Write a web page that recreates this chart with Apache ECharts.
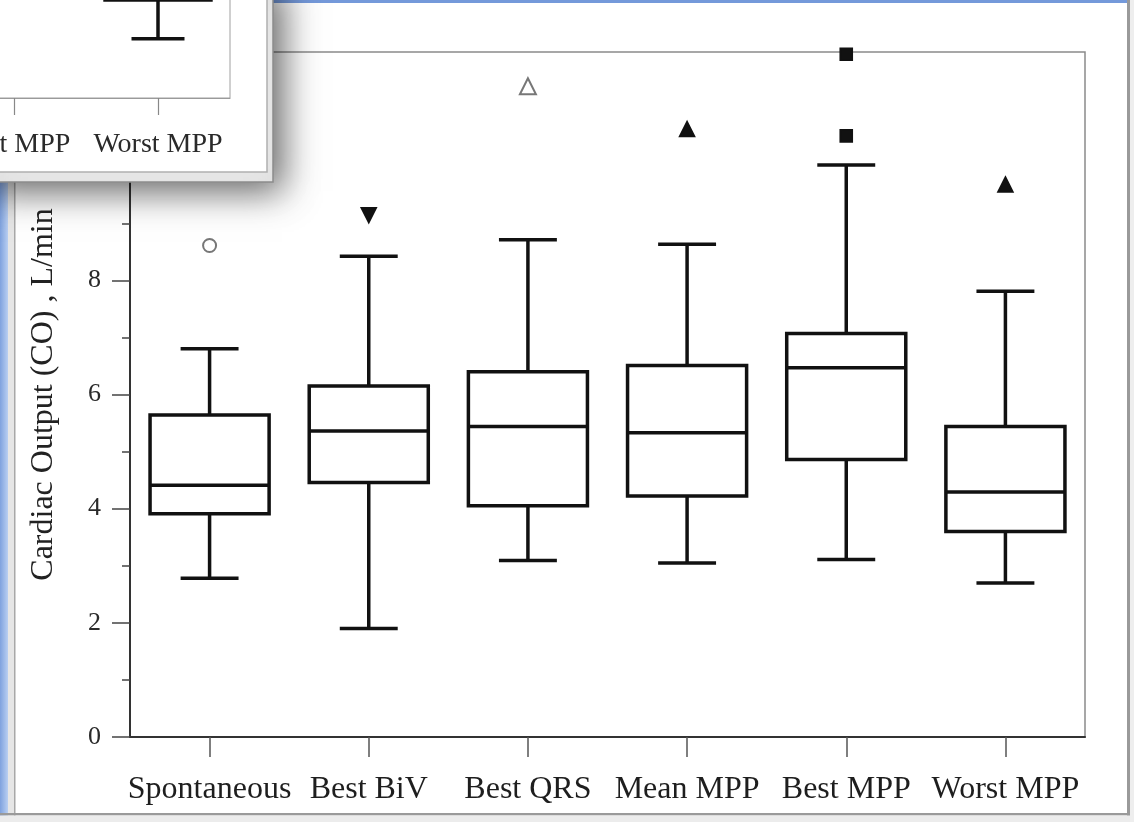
<!DOCTYPE html>
<html>
<head>
<meta charset="utf-8">
<title>Cardiac Output box plot</title>
<style>
  html, body { margin: 0; padding: 0; background: #fff; }
  #main { width: 1134px; height: 822px; }
</style>
<script src="https://cdn.jsdelivr.net/npm/echarts@6/dist/echarts.min.js"></script>
</head>
<body>
<div id="main"></div>
<script>
const categories = ['Spontaneous', 'Best BiV', 'Best QRS', 'Mean MPP', 'Best MPP', 'Worst MPP']
const whiskerLow = [2.78, 1.90, 3.09, 3.05, 3.11, 2.70]
const q1 = [3.91, 4.46, 4.05, 4.22, 4.86, 3.60]
const median = [4.41, 5.36, 5.44, 5.33, 6.47, 4.29]
const q3 = [5.64, 6.15, 6.40, 6.51, 7.07, 5.44]
const whiskerHigh = [6.80, 8.42, 8.71, 8.63, 10.02, 7.81]

// outliers: category index + value
const outlierCategory = [0, 1, 2, 3, 4, 4, 5]
const outlierValue = [8.61, 9.14, 11.40, 10.65, 11.96, 10.53, 9.68]

const yTicks = [0, 2, 4, 6, 8, 10, 12]

// the second window in front only shows the bottom of its last box
const insetCategory = [5]
const insetLow = [1.48]
const insetQ1 = [2.45]

// marker look for each outlier (same order as above)
const outlierMarks = [
  { symbol: 'emptyCircle', size: 13, color: '#777', rotate: 0 },
  { symbol: 'triangle', size: 15, color: '#111', rotate: 180 },
  { symbol: 'emptyTriangle', size: 16, color: '#777', rotate: 0 },
  { symbol: 'triangle', size: 15, color: '#111', rotate: 0 },
  { symbol: 'rect', size: 12, color: '#111', rotate: 0 },
  { symbol: 'rect', size: 12, color: '#111', rotate: 0 },
  { symbol: 'triangle', size: 15, color: '#111', rotate: 0 }
]

const serif = "'Liberation Serif', 'Times New Roman', serif"
const boxData = categories.map((c, i) => [i, whiskerLow[i], q1[i], median[i], q3[i], whiskerHigh[i]])
const outlierData = outlierCategory.map((c, i) => ({
  value: [c, outlierValue[i]],
  symbol: outlierMarks[i].symbol,
  symbolSize: outlierMarks[i].size,
  symbolRotate: outlierMarks[i].rotate,
  itemStyle: { color: outlierMarks[i].color, borderColor: outlierMarks[i].color, borderWidth: 1.6, opacity: 1 }
}))
const insetData = insetCategory.map((c, i) => [c, insetLow[i], insetQ1[i]])

const lineStyle = { stroke: '#111', lineWidth: 3.5, fill: null }

function hLine(p, half) {
  return { type: 'line', shape: { x1: p[0] - half, y1: p[1], x2: p[0] + half, y2: p[1] }, style: lineStyle }
}

function vLine(a, b) {
  return { type: 'line', shape: { x1: a[0], y1: a[1], x2: b[0], y2: b[1] }, style: lineStyle }
}

function renderBox(params, api) {
  const x = api.value(0)
  const band = api.size([1, 0])[0]
  const half = band * 0.374
  const cap = band * 0.182
  const pLow = api.coord([x, api.value(1)])
  const pQ1 = api.coord([x, api.value(2)])
  const pMed = api.coord([x, api.value(3)])
  const pQ3 = api.coord([x, api.value(4)])
  const pHigh = api.coord([x, api.value(5)])
  return {
    type: 'group',
    children: [
      vLine(pLow, pQ1),
      vLine(pQ3, pHigh),
      hLine(pLow, cap),
      hLine(pHigh, cap),
      {
        type: 'rect',
        shape: { x: pQ1[0] - half, y: pQ3[1], width: half * 2, height: pQ1[1] - pQ3[1] },
        style: { stroke: '#111', lineWidth: 3.5, fill: '#fff' }
      },
      hLine(pMed, half)
    ]
  }
}

function renderInsetBox(params, api) {
  const x = api.value(0)
  const band = api.size([1, 0])[0]
  const pLow = api.coord([x, api.value(1)])
  const pQ1 = api.coord([x, api.value(2)])
  return {
    type: 'group',
    children: [vLine(pLow, pQ1), hLine(pLow, band * 0.184), hLine(pQ1, band * 0.38)]
  }
}

const chart = echarts.init(document.getElementById('main'))

chart.setOption({
  backgroundColor: '#fff',
  animation: false,
  grid: [
    {
      left: 130, right: 49, top: 52, bottom: 85,
      outerBoundsMode: 'none',
      containLabel: false,
      show: true, borderColor: '#8a8a8a', borderWidth: 1.5, backgroundColor: '#fff'
    },
    {
      left: -634, right: 904, top: -302, bottom: 724,
      outerBoundsMode: 'none',
      containLabel: false,
      show: true, borderColor: '#a0a0a0', borderWidth: 1, backgroundColor: '#fff', z: 110
    }
  ],
  xAxis: [
    {
      type: 'category',
      data: categories,
      gridIndex: 0,
      axisLine: { lineStyle: { color: '#333', width: 2 } },
      axisTick: { show: true, interval: 0, alignWithLabel: true, length: 20, lineStyle: { color: '#555', width: 1.5 } },
      axisLabel: { interval: 0, hideOverlap: false, fontFamily: serif, fontSize: 32, color: '#1e1e1e', margin: 37 },
      splitLine: { show: false }
    },
    {
      type: 'category',
      data: categories,
      gridIndex: 1,
      z: 110,
      axisLine: { lineStyle: { color: '#9a9a9a', width: 1.2 } },
      axisTick: { show: true, interval: 0, alignWithLabel: true, length: 17, lineStyle: { color: '#888', width: 1.2 } },
      axisLabel: { interval: 0, hideOverlap: false, fontFamily: serif, fontSize: 28, color: '#2a2a2a', margin: 33 },
      splitLine: { show: false }
    }
  ],
  yAxis: [
    {
      type: 'value',
      gridIndex: 0,
      min: yTicks[0],
      max: yTicks[yTicks.length - 1],
      interval: yTicks[1] - yTicks[0],
      name: 'Cardiac Output (CO) , L/min',
      nameLocation: 'middle',
      nameGap: 70,
      nameTextStyle: { fontFamily: serif, fontSize: 32, color: '#222' },
      axisLine: { show: true, lineStyle: { color: '#333', width: 2 } },
      axisTick: { show: true, length: 18, lineStyle: { color: '#444', width: 1.5 } },
      minorTick: { show: true, splitNumber: 2, length: 8, lineStyle: { color: '#444', width: 1.5 } },
      axisLabel: { fontFamily: serif, fontSize: 26, color: '#2a2a2a', margin: 29 },
      splitLine: { show: false }
    },
    {
      type: 'value',
      gridIndex: 1,
      min: 0,
      max: 10,
      show: false,
      splitLine: { show: false }
    }
  ],
  graphic: {
    elements: [
      // window chrome
      {
        type: 'rect', z: 1, shape: { x: 0, y: 0, width: 8, height: 822 },
        style: { fill: new echarts.graphic.LinearGradient(0, 0, 1, 0, [
          { offset: 0, color: '#7fa2de' }, { offset: 1, color: '#b9cff2' }
        ]) }
      },
      { type: 'rect', z: 1, shape: { x: 8, y: 0, width: 6, height: 822 }, style: { fill: '#e6e6e6' } },
      { type: 'rect', z: 1, shape: { x: 14, y: 0, width: 1.5, height: 822 }, style: { fill: '#a8a8a8' } },
      { type: 'rect', z: 1, shape: { x: 0, y: 0, width: 1134, height: 3 }, style: { fill: '#7499da' } },
      { type: 'rect', z: 1, shape: { x: 1127, y: 0, width: 3, height: 822 }, style: { fill: '#9a9a9a' } },
      { type: 'rect', z: 1, shape: { x: 1130, y: 0, width: 4, height: 822 }, style: { fill: '#eeeeee' } },
      { type: 'rect', z: 1, shape: { x: 0, y: 813, width: 1130, height: 2.5 }, style: { fill: '#9a9a9a' } },
      { type: 'rect', z: 1, shape: { x: 0, y: 815.5, width: 1130, height: 7 }, style: { fill: '#ececec' } },
      // inset window with shadow
      {
        type: 'rect', z: 100, shape: { x: -20, y: -20, width: 293, height: 202 },
        style: {
          fill: '#e9e9e9', stroke: '#8c8c8c', lineWidth: 1.5,
          shadowBlur: 34, shadowColor: 'rgba(0,0,0,0.6)', shadowOffsetX: 9, shadowOffsetY: 9
        }
      },
      {
        type: 'rect', z: 101, shape: { x: -20, y: -20, width: 287, height: 192 },
        style: { fill: '#ffffff', stroke: '#b0b0b0', lineWidth: 1.5 }
      }
    ]
  },
  series: [
    {
      type: 'custom',
      name: 'CO',
      xAxisIndex: 0,
      yAxisIndex: 0,
      renderItem: renderBox,
      encode: { x: 0, y: [1, 2, 3, 4, 5] },
      data: boxData,
      z: 2
    },
    {
      type: 'scatter',
      name: 'outliers',
      xAxisIndex: 0,
      yAxisIndex: 0,
      clip: false,
      data: outlierData,
      z: 3
    },
    {
      type: 'custom',
      name: 'inset',
      xAxisIndex: 1,
      yAxisIndex: 1,
      renderItem: renderInsetBox,
      encode: { x: 0, y: [1, 2] },
      clip: true,
      data: insetData,
      z: 120
    }
  ]
})
</script>
</body>
</html>
